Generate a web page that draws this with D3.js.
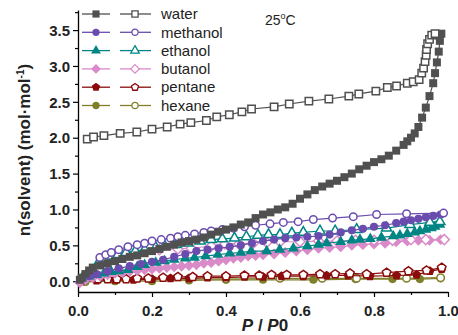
<!DOCTYPE html>
<html>
<head>
<meta charset="utf-8">
<script src="https://cdn.jsdelivr.net/npm/d3@7"></script>
<style>
  body { margin: 0; background: #fff; }
  svg { font-family: "Liberation Sans", Arial, sans-serif; }
</style>
</head>
<body>
<div id="chart-area"></div>
<script>
// isotherm data, [P/P0, n(solvent)]
let waterAds = [[0.005,0.02],[0.01,0.05],[0.02,0.10],[0.03,0.15],[0.04,0.19],[0.06,0.22],[0.08,0.25],[0.10,0.28],[0.12,0.31],[0.14,0.34],[0.16,0.36],[0.18,0.39],[0.20,0.42],[0.22,0.45],[0.24,0.48],[0.26,0.51],[0.28,0.54],[0.30,0.56],[0.32,0.58],[0.34,0.61],[0.36,0.65],[0.38,0.69],[0.40,0.72],[0.42,0.75],[0.44,0.79],[0.46,0.82],[0.48,0.88],[0.50,0.93],[0.52,0.96],[0.54,1.00],[0.56,1.03],[0.58,1.08],[0.60,1.15],[0.62,1.21],[0.64,1.27],[0.66,1.32],[0.68,1.36],[0.70,1.40],[0.72,1.45],[0.74,1.50],[0.76,1.56],[0.78,1.61],[0.80,1.66],[0.82,1.70],[0.84,1.75],[0.86,1.82],[0.88,1.90],[0.89,1.95],[0.90,2.00],[0.91,2.06],[0.92,2.15],[0.93,2.28],[0.94,2.42],[0.95,2.58],[0.96,2.76],[0.965,2.90],[0.97,3.05],[0.975,3.20],[0.978,3.35],[0.982,3.45]];
let waterDes = [[0.025,1.98],[0.042,2.01],[0.070,2.03],[0.114,2.06],[0.159,2.08],[0.200,2.12],[0.241,2.15],[0.276,2.19],[0.305,2.21],[0.347,2.24],[0.375,2.29],[0.409,2.32],[0.443,2.36],[0.469,2.40],[0.530,2.43],[0.571,2.47],[0.624,2.51],[0.678,2.54],[0.732,2.58],[0.759,2.61],[0.805,2.65],[0.836,2.70],[0.861,2.72],[0.890,2.76],[0.906,2.78],[0.922,2.81],[0.929,2.90],[0.934,2.97],[0.938,3.06],[0.941,3.15],[0.942,3.23],[0.945,3.31],[0.950,3.37],[0.956,3.43],[0.965,3.45]];

let methanolAds = [[0.01,0.03],[0.03,0.07],[0.05,0.10],[0.08,0.14],[0.11,0.18],[0.14,0.21],[0.17,0.24],[0.20,0.27],[0.23,0.30],[0.26,0.34],[0.29,0.38],[0.32,0.42],[0.35,0.44],[0.38,0.46],[0.41,0.48],[0.44,0.50],[0.47,0.53],[0.50,0.56],[0.53,0.58],[0.56,0.60],[0.59,0.61],[0.62,0.62],[0.65,0.63],[0.68,0.65],[0.71,0.68],[0.74,0.71],[0.77,0.73],[0.80,0.76],[0.83,0.78],[0.86,0.81],[0.88,0.83],[0.90,0.85],[0.92,0.87],[0.94,0.89],[0.96,0.91],[0.98,0.93]];
let methanolDes = [[0.059,0.33],[0.075,0.37],[0.09,0.40],[0.11,0.44],[0.135,0.48],[0.16,0.51],[0.18,0.53],[0.20,0.56],[0.225,0.58],[0.25,0.60],[0.27,0.62],[0.29,0.64],[0.315,0.66],[0.34,0.68],[0.36,0.70],[0.39,0.72],[0.42,0.74],[0.45,0.76],[0.48,0.78],[0.519,0.80],[0.555,0.82],[0.595,0.83],[0.636,0.86],[0.688,0.88],[0.744,0.90],[0.807,0.93],[0.888,0.94],[0.988,0.95]];

let ethanolAds = [[0.01,0.04],[0.03,0.07],[0.05,0.09],[0.07,0.11],[0.09,0.13],[0.11,0.14],[0.135,0.16],[0.16,0.20],[0.18,0.23],[0.21,0.26],[0.234,0.28],[0.26,0.30],[0.29,0.32],[0.315,0.33],[0.345,0.35],[0.378,0.37],[0.41,0.39],[0.44,0.40],[0.468,0.42],[0.51,0.42],[0.545,0.44],[0.582,0.46],[0.62,0.49],[0.65,0.51],[0.672,0.53],[0.71,0.55],[0.74,0.57],[0.762,0.58],[0.79,0.59],[0.82,0.61],[0.852,0.63],[0.87,0.64],[0.89,0.66],[0.91,0.68],[0.924,0.70],[0.94,0.72],[0.955,0.74],[0.965,0.76],[0.978,0.79]];
let ethanolDes = [[0.059,0.29],[0.075,0.32],[0.09,0.35],[0.108,0.37],[0.13,0.40],[0.155,0.42],[0.18,0.44],[0.21,0.47],[0.234,0.49],[0.265,0.51],[0.297,0.53],[0.33,0.56],[0.36,0.58],[0.39,0.59],[0.423,0.60],[0.455,0.62],[0.486,0.64],[0.515,0.65],[0.546,0.65],[0.578,0.67],[0.609,0.68],[0.654,0.70],[0.695,0.70],[0.753,0.72],[0.834,0.74],[0.897,0.79],[0.951,0.82],[0.978,0.83]];

let butanolAds = [[0.005,-0.02],[0.02,0.02],[0.04,0.05],[0.06,0.07],[0.08,0.09],[0.10,0.11],[0.12,0.12],[0.14,0.14],[0.16,0.15],[0.18,0.16],[0.20,0.17],[0.22,0.18],[0.24,0.19],[0.26,0.20],[0.28,0.21],[0.30,0.22],[0.32,0.23],[0.34,0.25],[0.36,0.26],[0.38,0.28],[0.40,0.30],[0.42,0.32],[0.44,0.33],[0.46,0.35],[0.48,0.36],[0.50,0.37],[0.53,0.38],[0.56,0.40],[0.59,0.42],[0.62,0.44],[0.65,0.46],[0.68,0.47],[0.71,0.48],[0.74,0.50],[0.77,0.51],[0.80,0.52],[0.83,0.53],[0.86,0.55],[0.89,0.56],[0.92,0.57],[0.95,0.57],[0.98,0.58]];
let butanolDes = [[0.13,0.40],[0.17,0.42],[0.22,0.44],[0.27,0.45],[0.306,0.46],[0.36,0.49],[0.397,0.52],[0.435,0.52],[0.474,0.53],[0.51,0.54],[0.546,0.55],[0.60,0.55],[0.65,0.56],[0.70,0.56],[0.75,0.57],[0.80,0.57],[0.85,0.57],[0.90,0.58],[0.94,0.58],[0.99,0.58]];

let pentaneAds = [[0.01,0.0],[0.05,0.01],[0.10,0.02],[0.15,0.02],[0.20,0.03],[0.25,0.04],[0.30,0.04],[0.35,0.05],[0.40,0.05],[0.45,0.06],[0.50,0.06],[0.55,0.07],[0.609,0.07],[0.672,0.08],[0.73,0.08],[0.789,0.07],[0.861,0.08],[0.915,0.09],[0.951,0.14],[0.983,0.17]];
let pentaneDes = [[0.054,0.03],[0.08,0.03],[0.105,0.03],[0.13,0.03],[0.16,0.04],[0.19,0.04],[0.23,0.05],[0.27,0.06],[0.31,0.06],[0.35,0.07],[0.40,0.07],[0.45,0.08],[0.49,0.08],[0.523,0.09],[0.564,0.09],[0.609,0.09],[0.654,0.10],[0.695,0.10],[0.735,0.11],[0.78,0.10],[0.834,0.12],[0.893,0.14],[0.942,0.15],[0.983,0.19]];

let hexaneAds = [[0.02,-0.01],[0.10,0.0],[0.20,0.0],[0.30,0.01],[0.40,0.02],[0.50,0.02],[0.636,0.02],[0.75,0.03],[0.85,0.03],[0.924,0.03],[0.98,0.04]];
let hexaneDes = [[0.10,0.01],[0.20,0.02],[0.30,0.03],[0.40,0.03],[0.546,0.04],[0.66,0.04],[0.753,0.04],[0.888,0.04],[0.98,0.05]];

let names = ["water", "methanol", "ethanol", "butanol", "pentane", "hexane"];
let colors = ["#505050", "#6a4caf", "#008585", "#d98ac8", "#8b0c0c", "#7f7f2a"];
let shapes = ["square", "circle", "triangle", "diamond", "pentagon", "circle"];
let adsData = [waterAds, methanolAds, ethanolAds, butanolAds, pentaneAds, hexaneAds];
let desData = [waterDes, methanolDes, ethanolDes, butanolDes, pentaneDes, hexaneDes];

let xTicks = [0, 0.2, 0.4, 0.6, 0.8, 1.0];
let yTicks = [0, 0.5, 1.0, 1.5, 2.0, 2.5, 3.0, 3.5];

let margin = {top: 10, right: 10, bottom: 43, left: 78};
let width = 458 - margin.left - margin.right;
let height = 335 - margin.top - margin.bottom;

let svg = d3.select("#chart-area").append("svg")
		.attr("width", 458)
		.attr("height", 335)
	.append("g")
		.attr("transform", "translate(" + margin.left + "," + margin.top + ")");

let x = d3.scaleLinear().domain([0, 1]).range([0, 370]);
let y = d3.scaleLinear().domain([-0.15, 3.78]).range([height, 0]);

// custom marker shapes
let pentagon = {
	draw(ctx, size) {
		let r = Math.sqrt(size / 2.378);
		for (let i = 0; i < 5; i++) {
			let a = -Math.PI / 2 + i * 2 * Math.PI / 5;
			if (i === 0) ctx.moveTo(r * Math.cos(a), r * Math.sin(a));
			else ctx.lineTo(r * Math.cos(a), r * Math.sin(a));
		}
		ctx.closePath();
	}
};
let diamond = {
	draw(ctx, size) {
		let r = Math.sqrt(size / 2);
		ctx.moveTo(0, -r); ctx.lineTo(r, 0); ctx.lineTo(0, r); ctx.lineTo(-r, 0);
		ctx.closePath();
	}
};
let symbolTypes = {
	square: d3.symbolSquare,
	circle: d3.symbolCircle,
	triangle: d3.symbolTriangle,
	diamond: diamond,
	pentagon: pentagon
};
let symbolSizes = {square: 64, circle: 52, triangle: 52, diamond: 60, pentagon: 56};

function marker(shape, scale) {
	return d3.symbol().type(symbolTypes[shape]).size(symbolSizes[shape] * (scale || 1));
}

// axes
let xAxis = d3.axisBottom(x).tickValues(xTicks).tickFormat(d3.format(".1f")).tickSize(5).tickSizeOuter(0);
let xMinor = d3.axisBottom(x).tickValues(d3.range(0.1, 1, 0.2)).tickFormat("").tickSize(3).tickSizeOuter(0);
let yAxis = d3.axisLeft(y).tickValues(yTicks).tickFormat(d3.format(".1f")).tickSize(5).tickSizeOuter(0);
let yMinor = d3.axisLeft(y).tickValues(d3.range(0.25, 3.76, 0.5)).tickFormat("").tickSize(3).tickSizeOuter(0);

let xAxisGroup = svg.append("g").attr("transform", "translate(0," + height + ")").call(xAxis);
svg.append("g").attr("transform", "translate(0," + height + ")").call(xMinor).select(".domain").remove();
let yAxisGroup = svg.append("g").call(yAxis);
svg.append("g").call(yMinor).select(".domain").remove();

svg.selectAll(".domain").attr("stroke", "#000").attr("stroke-width", 1.3);
svg.selectAll(".tick line").attr("stroke", "#000").attr("stroke-width", 1.2);
xAxisGroup.selectAll("text").attr("font-size", 15).attr("font-weight", "bold").attr("dy", "1.05em").attr("fill", "#222");
yAxisGroup.selectAll("text").attr("font-size", 15).attr("font-weight", "bold").attr("dy", "0.35em").attr("x", -8).attr("fill", "#222");

// series
let line = d3.line().x(d => x(d[0])).y(d => y(d[1]));
let order = [5, 4, 3, 2, 1, 0];

order.forEach(i => {
	let g = svg.append("g");
	[adsData[i], desData[i]].forEach((data, k) => {
		g.append("path")
			.attr("fill", "none")
			.attr("stroke", colors[i])
			.attr("stroke-width", 1.2)
			.attr("d", line(data));
		g.selectAll(".m" + k)
			.data(data)
			.enter().append("path")
			.attr("class", "m" + k)
			.attr("transform", d => "translate(" + x(d[0]) + "," + y(d[1]) + ")")
			.attr("d", marker(shapes[i], k === 0 ? 1 : 0.85))
			.attr("fill", k === 0 ? colors[i] : "#fff")
			.attr("stroke", colors[i])
			.attr("stroke-width", k === 0 ? 0 : 1.5);
	});
});

// legend
let legend = svg.append("g").attr("transform", "translate(" + (82 - margin.left) + ",0)");
names.forEach((name, i) => {
	let row = legend.append("g").attr("transform", "translate(0," + (4 + i * 18.3) + ")");
	row.append("line").attr("x1", 0).attr("x2", 28).attr("stroke", colors[i]).attr("stroke-width", 1.3);
	row.append("line").attr("x1", 38).attr("x2", 69).attr("stroke", colors[i]).attr("stroke-width", 1.3);
	row.append("path").attr("transform", "translate(14,0)")
		.attr("d", marker(shapes[i], 0.8)).attr("fill", colors[i]);
	row.append("path").attr("transform", "translate(53,0)")
		.attr("d", marker(shapes[i], 0.6)).attr("fill", "#fff")
		.attr("stroke", colors[i]).attr("stroke-width", 1.3);
	row.append("text").attr("x", 79).attr("dy", "0.35em")
		.attr("font-size", 15).attr("fill", "#222").text(name);
});

// temperature note
let temp = svg.append("text").attr("x", 265 - margin.left).attr("y", 25 - margin.top)
	.attr("font-size", 14).attr("fill", "#222");
temp.append("tspan").text("25");
temp.append("tspan").attr("dy", -6).attr("font-size", 9).text("o");
temp.append("tspan").attr("dy", 6).text("C");

// axis titles
let yLabel = svg.append("text")
	.attr("transform", "translate(" + (30 - margin.left) + "," + (150 - margin.top) + ") rotate(-90)")
	.attr("text-anchor", "middle").attr("font-size", 17).attr("font-weight", "bold").attr("fill", "#222");
yLabel.append("tspan").text("n(solvent) (mol·mol");
yLabel.append("tspan").attr("dy", -6).attr("font-size", 10).text("-1");
yLabel.append("tspan").attr("dy", 6).text(")");

let xLabel = svg.append("text")
	.attr("x", 265 - margin.left).attr("y", 331 - margin.top)
	.attr("text-anchor", "middle").attr("font-size", 17).attr("font-weight", "bold").attr("fill", "#222");
xLabel.append("tspan").attr("font-style", "italic").text("P");
xLabel.append("tspan").text(" /  ");
xLabel.append("tspan").attr("font-style", "italic").text("P");
xLabel.append("tspan").text("0");
</script>
</body>
</html>
